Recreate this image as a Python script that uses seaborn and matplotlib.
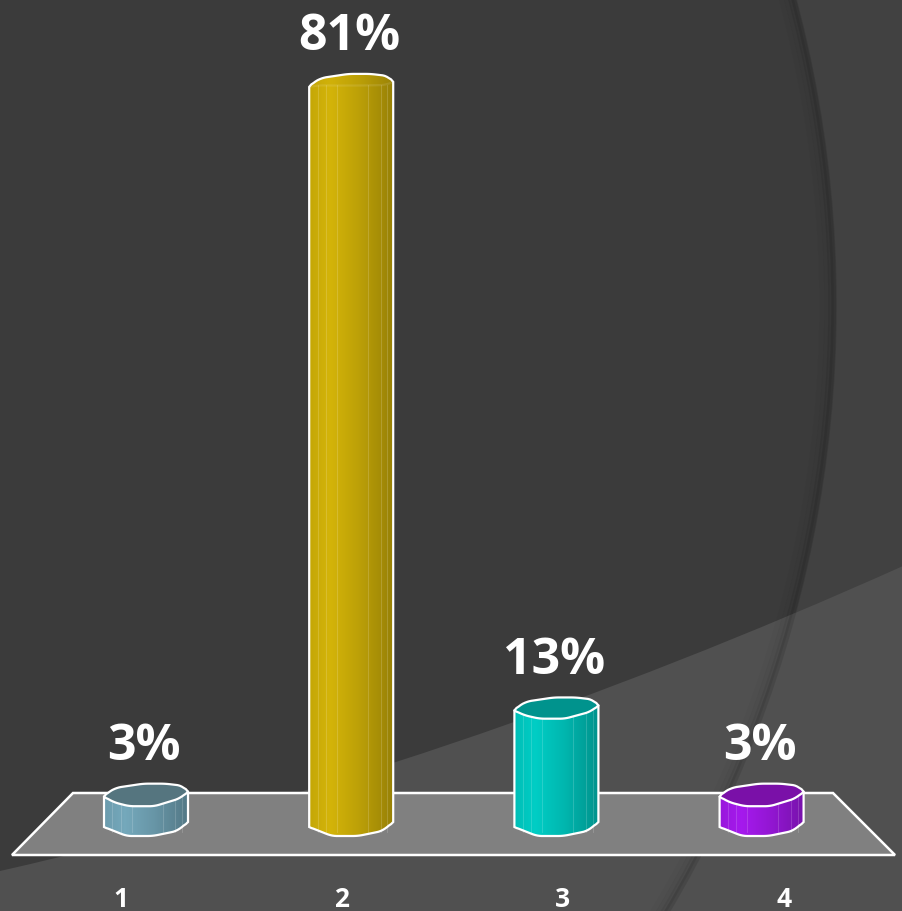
# Recreate the dark 3D cylinder percentage chart
import matplotlib
matplotlib.use("Agg")
import matplotlib.pyplot as plt
from matplotlib.patches import Circle, PathPatch, Polygon
from matplotlib.path import Path
import numpy as np
import pandas as pd
import seaborn as sns

# Chart data
categories = ["1", "2", "3", "4"]
percentages = [3.2, 80.6, 12.6, 3.2]
tick_labels = ["1", "2", "3", "4"]

# Colours
bar_colors = ["#6e9fb1", "#c8aa08", "#00c2ba", "#9c18e0"]
top_colors = ["#55757f", "#bd9f08", "#00938d", "#7a10a8"]
background_dark = "#3b3b3b"
background_light = "#414141"
band_color = "#505050"
platform_color = "#808080"

# Layout in pixels of the 903x912 picture
WIDTH, HEIGHT = 903, 912
BASE_PX = 825
PX_PER_UNIT = 9.17
FIRST_BAR_PX = 146
BAR_STEP_PX = 205.2
BAR_WIDTH_PX = 84
TICK_PX = [121, 342, 563, 784]

# Wobbly cylinder outline: fraction of bar width, pixels below the reference line
TOP_U = [0, 0.04, 0.15, 0.47, 0.73, 0.93, 1]
TOP_DY = [2, -2, -7, -11, -11, -9, -3]
LOWER_U = [0, 0.12, 0.3, 0.6, 0.75, 0.9, 1]
LOWER_F = [0.1, 0.5, 0.75, 0.75, 0.5, 0.25, 0]
BOTTOM_U = [0, 0.27, 0.58, 0.87, 1]
BOTTOM_DY = [3, 12, 12, 7, -2]
FACETS = [0.1, 0.2, 0.33, 0.7, 0.85, 0.93]

sns.set_theme(style="dark")
plt.rcParams["font.family"] = ["Open Sans", "DejaVu Sans"]

fig = plt.figure(figsize=(WIDTH / 100, HEIGHT / 100), dpi=100)
fig.patch.set_facecolor(background_light)

# Background shapes, drawn in pixel coordinates
bg = fig.add_axes([0, 0, 1, 1], zorder=0)
bg.set_xlim(0, WIDTH)
bg.set_ylim(HEIGHT, 0)
bg.axis("off")

arc_center = (-352, 306)
arc_radius = 1188
bg.add_patch(Circle(arc_center, arc_radius, fc=background_dark, ec="none"))
band = Path([(0, 872), (451, 770), (903, 567), (903, 912), (0, 912), (0, 872)],
            [Path.MOVETO, Path.CURVE3, Path.CURVE3, Path.LINETO, Path.LINETO, Path.CLOSEPOLY])
bg.add_patch(PathPatch(band, fc=band_color, ec="none"))

# Soft shadow just inside the big arc
for offset, alpha in zip([2, 5, 9, 14], [0.10, 0.07, 0.04, 0.02]):
    bg.add_patch(Circle(arc_center, arc_radius - offset, fc="none", ec="black", lw=4, alpha=alpha))

# Floor of the chart
bg.add_patch(Polygon([(73, 794), (833, 794), (895, 856), (12, 856)],
                     fc=platform_color, ec="white", lw=1.8, joinstyle="miter"))

# Chart axes share the whole figure so the cylinders can overhang the baseline
ax = fig.add_axes([0, 0, 1, 1], zorder=1)
ax.patch.set_visible(False)

df = pd.DataFrame({"category": categories, "percentage": percentages})
sns.barplot(data=df, x="category", y="percentage", hue="category", palette=bar_colors,
            width=BAR_WIDTH_PX / BAR_STEP_PX, legend=False, ax=ax)

xlim = (-FIRST_BAR_PX / BAR_STEP_PX, (WIDTH - FIRST_BAR_PX) / BAR_STEP_PX)
ylim = ((BASE_PX - HEIGHT) / PX_PER_UNIT, BASE_PX / PX_PER_UNIT)


def shade(color, u):
    rgb = np.array(matplotlib.colors.to_rgb(color))
    factor = np.interp(u, [0, 0.25, 0.6, 1], [0.98, 1.06, 0.94, 0.76])
    return np.clip(rgb[None, :] * factor[:, None], 0, 1)


def smooth_edge(us, dys):
    # rounds the hand read outline so it does not look like a polygon
    grid = np.linspace(0, 1, 41)
    line = np.interp(grid, us, dys)
    kernel = np.ones(5) / 5
    padded = np.pad(line, 2, mode="edge")
    soft = np.convolve(padded, kernel, mode="valid")
    soft[0], soft[-1] = line[0], line[-1]
    return grid, soft


bars = sorted(ax.patches, key=lambda p: p.get_x())
for bar, value, color, top_color in zip(bars, percentages, bar_colors, top_colors):
    left = bar.get_x()
    width = bar.get_width()
    top = bar.get_height()
    bar.set_visible(False)

    # Top face gets flatter the taller the bar is, as in the perspective view
    depth = 16 * (1 - value / 85)
    face_alpha = min(1, depth / 8)

    gu, gdy = smooth_edge(TOP_U, TOP_DY)
    upper = np.column_stack([left + gu * width, top - gdy / PX_PER_UNIT])

    lower_dy = np.array(LOWER_F) * depth
    lower_dy[0], lower_dy[-1] = TOP_DY[0], TOP_DY[-1]
    lu, ldy = smooth_edge(LOWER_U, lower_dy)
    lower = np.column_stack([left + lu * width, top - ldy / PX_PER_UNIT])

    bu, bdy = smooth_edge(BOTTOM_U, BOTTOM_DY)
    bottom = np.column_stack([left + bu * width, -bdy / PX_PER_UNIT])

    outline = np.vstack([upper, bottom[::-1]])
    body = Polygon(outline, fc="none", ec="none", transform=ax.transData)
    ax.add_patch(body)

    u = np.linspace(0, 1, 200)
    img = ax.imshow(shade(color, u)[None, :, :], aspect="auto", zorder=3,
                    extent=(left, left + width, -2, top + 2))
    img.set_clip_path(body)

    for f in FACETS:
        ax.plot([left + f * width] * 2, [-8 / PX_PER_UNIT, top], color="white",
                alpha=0.16, lw=0.8, zorder=4)

    ax.add_patch(Polygon(np.vstack([upper, lower[::-1]]), fc=top_color, ec="none",
                         alpha=face_alpha, zorder=5))
    ax.plot(lower[:, 0], lower[:, 1], color="white", lw=1.6, alpha=face_alpha, zorder=6)
    ax.add_patch(Polygon(outline, fc="none", ec="white", lw=1.6, zorder=6))

    ax.annotate(f"{value:.0f}%", (left + width / 2, top), xytext=(-1.5, 25.5),
                textcoords="offset points", ha="center", va="baseline",
                color="white", fontsize=36, fontweight="bold", zorder=7)

ax.set_xlim(xlim)
ax.set_ylim(ylim)
ax.set_xticks([(px - FIRST_BAR_PX) / BAR_STEP_PX for px in TICK_PX])
ax.set_xticklabels(tick_labels, color="white", fontsize=19, fontweight="bold")
ax.tick_params(axis="x", length=0, pad=-18.5)
ax.set_yticks([])
ax.set_xlabel("")
ax.set_ylabel("")
ax.grid(False)
sns.despine(ax=ax, left=True, bottom=True)

fig.savefig("out.png", dpi=100, facecolor=fig.get_facecolor())
